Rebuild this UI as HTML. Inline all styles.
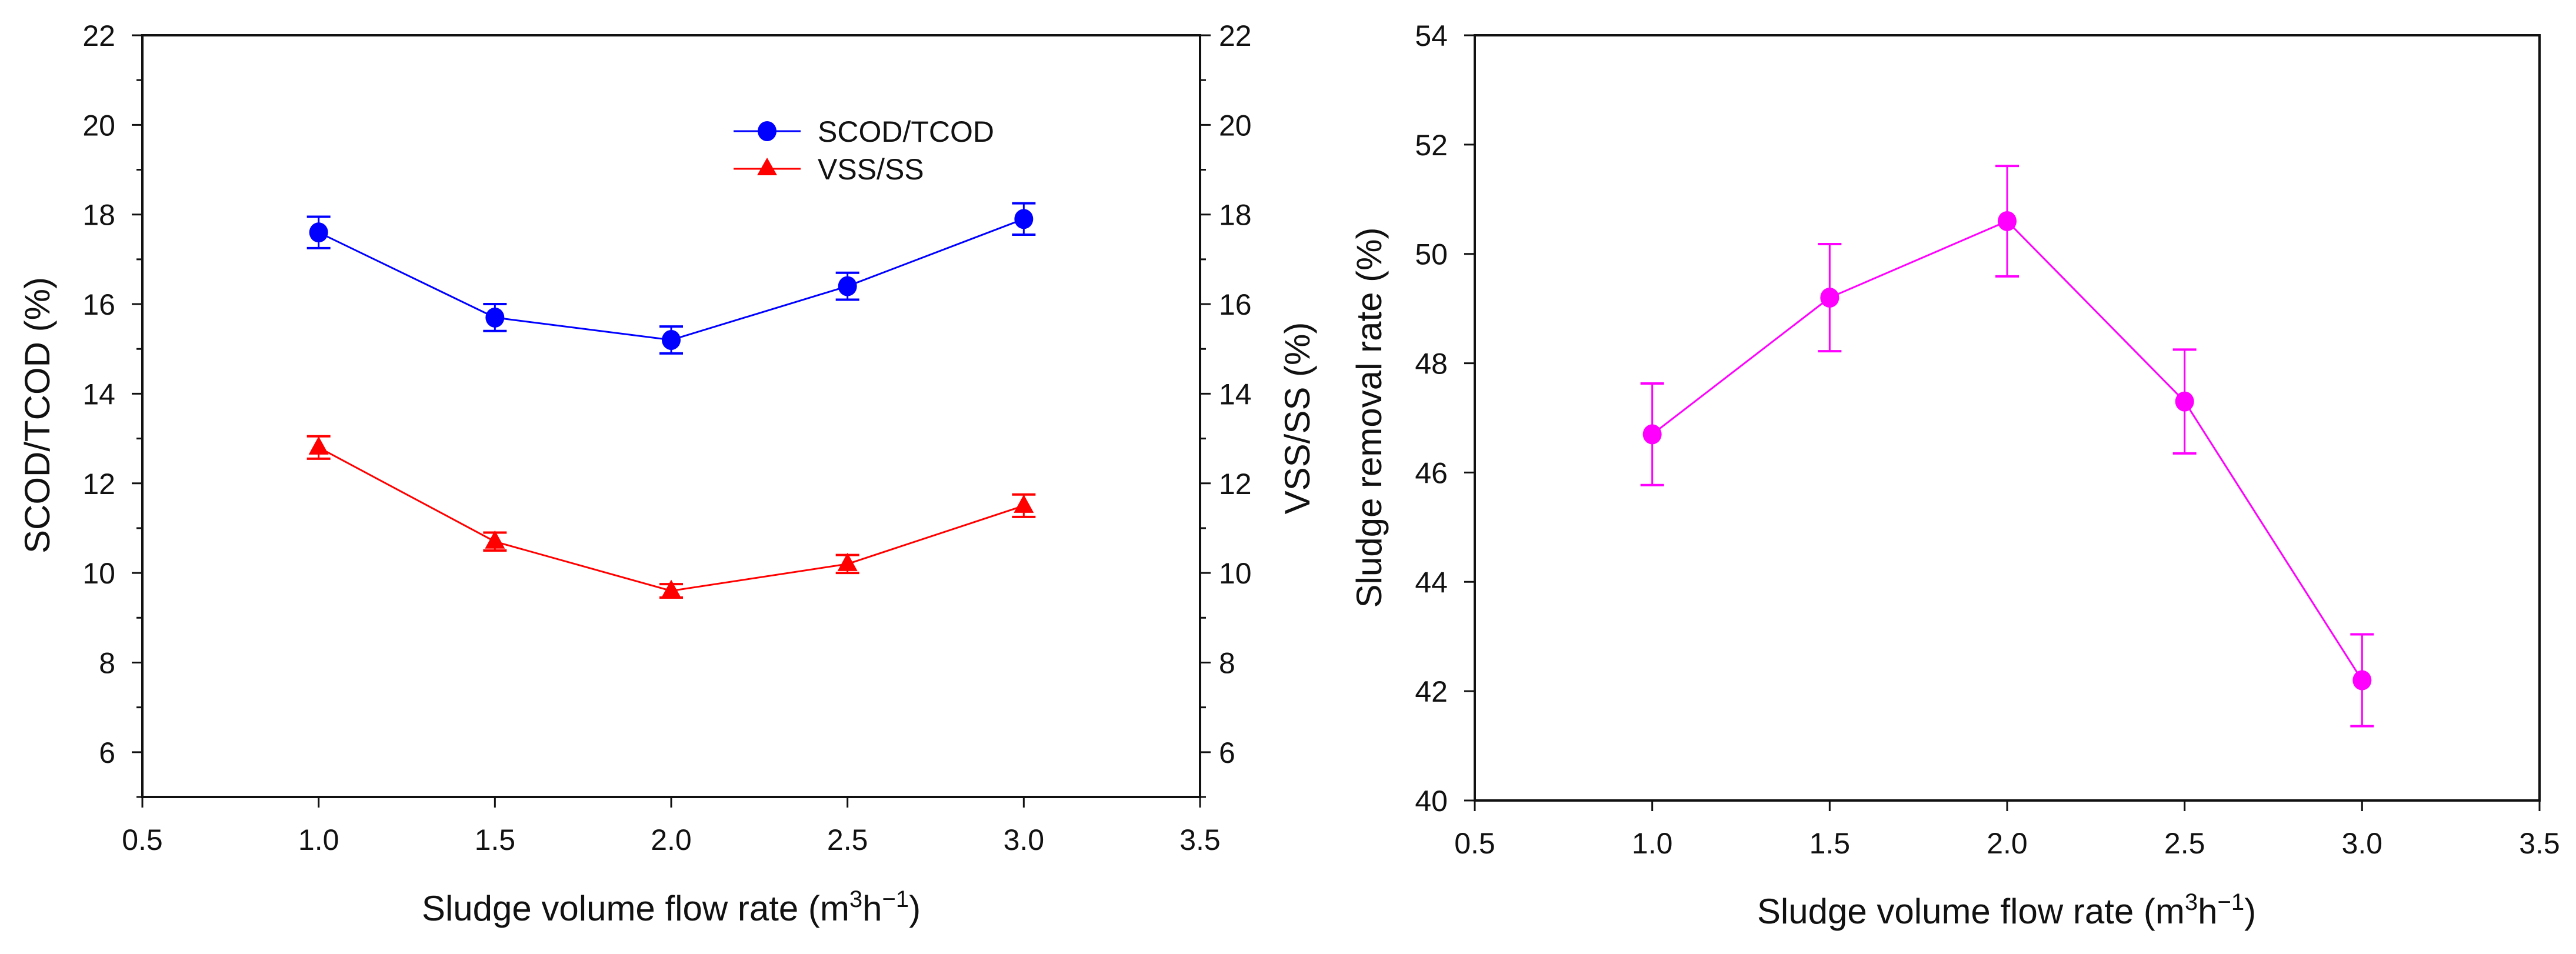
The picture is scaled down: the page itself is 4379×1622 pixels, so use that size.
<!DOCTYPE html>
<html><head><meta charset="utf-8">
<style>
html,body{margin:0;padding:0;background:#fff;}
svg{display:block;font-family:"Liberation Sans",Arial,sans-serif;}
</style></head>
<body>
<svg id="chart" width="4379" height="1622" viewBox="0 0 4379 1622" xmlns="http://www.w3.org/2000/svg"></svg>
<script>
const xCats = [1.0, 1.5, 2.0, 2.5, 3.0];
const scodVals = [17.6, 15.7, 15.2, 16.4, 17.9];
const scodErr = [0.35, 0.3, 0.3, 0.3, 0.35];
const vssVals = [12.8, 10.7, 9.6, 10.2, 11.5];
const vssErr = [0.25, 0.2, 0.15, 0.2, 0.25];
const removalVals = [46.7, 49.2, 50.6, 47.3, 42.2];
const removalErr = [0.93, 0.98, 1.01, 0.95, 0.84];
const xTicks = [0.5, 1.0, 1.5, 2.0, 2.5, 3.0, 3.5];
const xTickLabels = ["0.5","1.0","1.5","2.0","2.5","3.0","3.5"];
const leftYTicks = [6, 8, 10, 12, 14, 16, 18, 20, 22];
const leftYMinor = [5, 7, 9, 11, 13, 15, 17, 19, 21];
const rightYTicks = [40, 42, 44, 46, 48, 50, 52, 54];

const NS = "http://www.w3.org/2000/svg";
const svg = document.getElementById('chart');
function mk(tag, attrs, parent) {
  const e = document.createElementNS(NS, tag);
  for (const k in attrs) e.setAttribute(k, attrs[k]);
  (parent || svg).appendChild(e);
  return e;
}
const L = {x0: 242, x1: 2040, y0: 60, y1: 1355, xmin: 0.5, xmax: 3.5, ymin: 5, ymax: 22};
const R = {x0: 2507, x1: 4317, y0: 60, y1: 1361, xmin: 0.5, xmax: 3.5, ymin: 40, ymax: 54};
function sx(p, v) { return p.x0 + (v - p.xmin) / (p.xmax - p.xmin) * (p.x1 - p.x0); }
function sy(p, v) { return p.y1 - (v - p.ymin) / (p.ymax - p.ymin) * (p.y1 - p.y0); }

function frame(p, name) {
  const g = mk('g', {});
  
  
  mk('rect', {x: p.x0, y: p.y0, width: p.x1 - p.x0, height: p.y1 - p.y0, fill: 'none', stroke: '#111', 'stroke-width': 4}, g);
  xTicks.forEach((t, i) => {
    const x = sx(p, t);
    mk('line', {x1: x, y1: p.y1, x2: x, y2: p.y1 + 18, stroke: '#111', 'stroke-width': 3}, g);
    const tx = mk('text', {x: x, y: p.y1 + 90, 'font-size': 50, 'text-anchor': 'middle', fill: '#111'});
    tx.textContent = xTickLabels[i];
    
    
  });
}
function yAxis(p, name, ticks, minor, side) {
  const xa = side === 'left' ? p.x0 : p.x1;
  const dir = side === 'left' ? -1 : 1;
  ticks.forEach(t => {
    const y = sy(p, t);
    mk('line', {x1: xa, y1: y, x2: xa + dir * 18, y2: y, stroke: '#111', 'stroke-width': 3});
    const tx = mk('text', {x: side === 'left' ? xa - 46 : xa + 32, y: y + 18, 'font-size': 50, 'text-anchor': side === 'left' ? 'end' : 'start', fill: '#111'});
    tx.textContent = String(t);
    
    
  });
  minor.forEach(t => {
    const y = sy(p, t);
    mk('line', {x1: xa, y1: y, x2: xa + dir * 10, y2: y, stroke: '#111', 'stroke-width': 3});
  });
}
function series(p, vals, errs, color, marker, name) {
  const g = mk('g', {});
  
  
  const pts = xCats.map((c, i) => sx(p, c) + ',' + sy(p, vals[i])).join(' ');
  mk('polyline', {points: pts, fill: 'none', stroke: color, 'stroke-width': 3}, g);
  xCats.forEach((c, i) => {
    const x = sx(p, c), yt = sy(p, vals[i] + errs[i]), yb = sy(p, vals[i] - errs[i]);
    mk('line', {x1: x, y1: yt, x2: x, y2: yb, stroke: color, 'stroke-width': 3}, g);
    mk('line', {x1: x - 20, y1: yt, x2: x + 20, y2: yt, stroke: color, 'stroke-width': 4}, g);
    mk('line', {x1: x - 20, y1: yb, x2: x + 20, y2: yb, stroke: color, 'stroke-width': 4}, g);
    const y = sy(p, vals[i]);
    let m;
    if (marker === 'circle') m = mk('ellipse', {cx: x, cy: y, rx: 16, ry: 17, fill: color}, g);
    else m = mk('polygon', {points: (x) + ',' + (y - 19) + ' ' + (x - 17) + ',' + (y + 12) + ' ' + (x + 17) + ',' + (y + 12), fill: color}, g);
    
    
  });
}
function title(x, y, rot, html, name) {
  const t = mk('text', {x: x, y: y, 'font-size': 60, 'text-anchor': 'middle', fill: '#111', transform: rot ? 'rotate(-90 ' + x + ' ' + y + ')' : ''});
  t.innerHTML = html;
  
  
}
const xTitle = 'Sludge volume flow rate (m<tspan dy="-23" font-size="40">3</tspan><tspan dy="23">h</tspan><tspan dy="-23" font-size="40">−1</tspan><tspan dy="23">)</tspan>';

frame(L, 'left-panel');
yAxis(L, 'left-y-axis', leftYTicks, leftYMinor, 'left');
yAxis(L, 'right-y-axis', leftYTicks, leftYMinor, 'right');
series(L, scodVals, scodErr, '#0000ff', 'circle', 'scod-tcod');
series(L, vssVals, vssErr, '#ff0000', 'triangle', 'vss-ss');
title(1141, 1565, false, xTitle, 'left-x-axis-title');
title(84, 706, true, 'SCOD/TCOD (%)', 'left-y-axis-title');
title(2226, 711, true, 'VSS/SS (%)', 'right-y-axis-title');

const lg = mk('g', {});


mk('line', {x1: 1247, y1: 223, x2: 1361, y2: 223, stroke: '#0000ff', 'stroke-width': 3}, lg);
mk('ellipse', {cx: 1304, cy: 223, rx: 16, ry: 17, fill: '#0000ff'}, lg);
const l1 = mk('text', {x: 1390, y: 241, 'font-size': 50, fill: '#111'}, lg);
l1.textContent = 'SCOD/TCOD';


mk('line', {x1: 1247, y1: 287, x2: 1361, y2: 287, stroke: '#ff0000', 'stroke-width': 3}, lg);
mk('polygon', {points: '1304,268 1287,298 1321,298', fill: '#ff0000'}, lg);
const l2 = mk('text', {x: 1390, y: 305, 'font-size': 50, fill: '#111'}, lg);
l2.textContent = 'VSS/SS';



frame(R, 'right-panel');
yAxis(R, 'removal-y-axis', rightYTicks, [], 'left');
series(R, removalVals, removalErr, '#ff00ff', 'circle', 'sludge-removal');
title(3411, 1570, false, xTitle, 'right-x-axis-title');
title(2348, 710, true, 'Sludge removal rate (%)', 'removal-y-axis-title');
</script>
</body></html>
